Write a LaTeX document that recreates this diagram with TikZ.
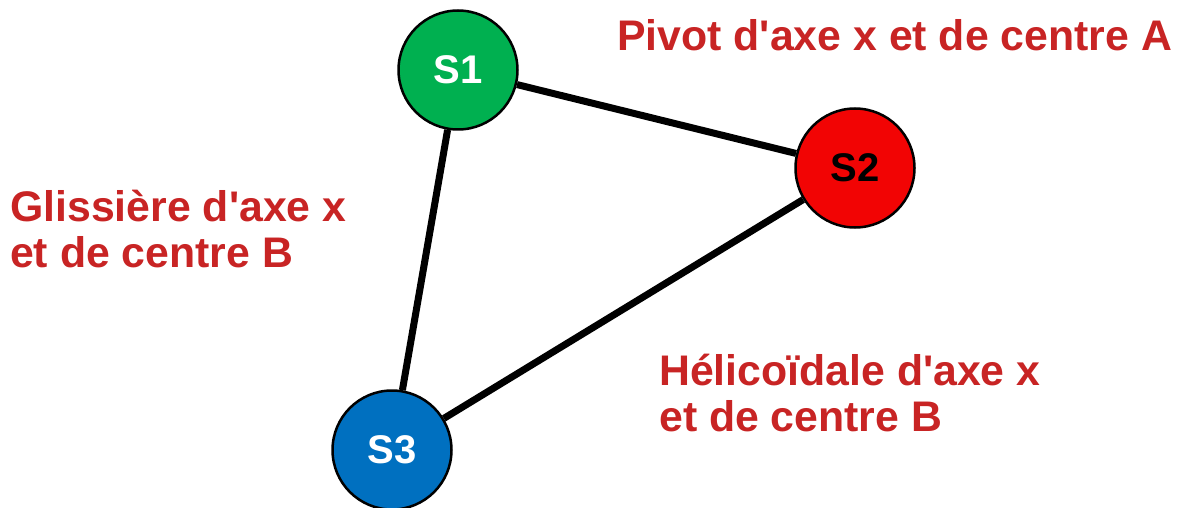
\documentclass[tikz,border=0pt]{standalone}
\usepackage{fontspec}
\newfontfamily\arialb{Liberation Sans}
\definecolor{lbl}{RGB}{200,36,36}
\definecolor{cg}{RGB}{0,176,80}
\definecolor{cr}{RGB}{242,4,4}
\definecolor{cb}{RGB}{0,112,192}
\begin{document}
\begin{tikzpicture}[x=1pt,y=-1pt,
  sol/.style={circle,draw=black,line width=2.5pt,minimum size=119pt,inner sep=0pt,font=\arialb\fontsize{40}{40}\selectfont\bfseries},
  link/.style={line width=7pt},
  lab/.style={text=lbl,font=\arialb\fontsize{42.8}{46}\selectfont\bfseries,anchor=base west,inner sep=0pt,align=left}]
\useasboundingbox (0,0) rectangle (1184,508);
\node[sol,fill=cg,text=white] (s1) at (458,70) {S1};
\node[sol,fill=cr,text=black] (s2) at (855,168) {S2};
\node[sol,fill=cb,text=white] (s3) at (392,450) {S3};
\draw[link] (s1) -- (s2);
\draw[link] (s1) -- (s3);
\draw[link] (s2) -- (s3);
\node[lab] (p) at (617,51) {Pivot d'axe x et de centre A};
\node[lab] (g) at (10,267) {Glissière d'axe x\\et de centre B};
\node[lab] (h) at (659,431) {Hélicoïdale d'axe x\\et de centre B};
\end{tikzpicture}
\end{document}
